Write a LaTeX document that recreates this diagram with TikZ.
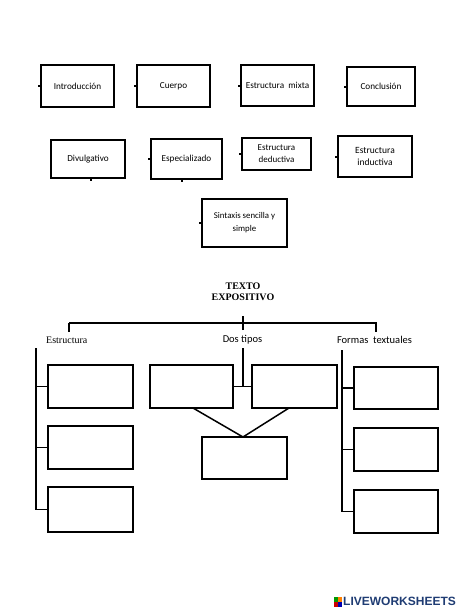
\documentclass[tikz,border=0pt]{standalone}
\usepackage{fontspec}
\setmainfont{Liberation Serif}
\newfontfamily\calfnt{Carlito}
\newfontfamily\lsansfnt{Liberation Sans}
\definecolor{lwblue}{HTML}{1F3C73}
\begin{document}
\begin{tikzpicture}[x=1pt,y=-1pt,
  tbox/.style={draw,line width=1.8pt,font=\calfnt\fontsize{9.2}{11}\selectfont,align=center,inner sep=0pt},
  bbox/.style={draw,line width=1.5pt,inner sep=0pt,minimum width=85pt,minimum height=43pt},
  conn/.style={line width=1.5pt},
  stub/.style={line width=2pt},
  lbl/.style={font=\calfnt\fontsize{10.5}{12}\selectfont,inner sep=0pt}]
\useasboundingbox (0,0) rectangle (474,611);
% top row
\node[tbox,minimum width=73pt,minimum height=42pt] (intro) at (77.5,86) {Introducción};
\node[tbox,minimum width=73pt,minimum height=42pt] (cuerpo) at (173.5,86) {Cuerpo};
\node[tbox,minimum width=73pt,minimum height=41pt] (mixta) at (277.5,85.5) {Estructura\ \ mixta};
\node[tbox,minimum width=68pt,minimum height=39pt] (concl) at (381,86.5) {Conclusión};
% second row
\node[tbox,minimum width=74pt,minimum height=38pt] (divul) at (88,159) {Divulgativo};
\node[tbox,minimum width=71pt,minimum height=40pt] (espec) at (186.5,159) {Especializado};
\node[tbox,minimum width=69pt,minimum height=32pt,font=\calfnt\fontsize{9}{12}\selectfont] (deduc) at (276.5,154) {Estructura\\deductiva};
\node[tbox,minimum width=74pt,minimum height=41pt,font=\calfnt\fontsize{9.5}{12.5}\selectfont] (induc) at (375,156.5) {Estructura\\inductiva};
\node[tbox,minimum width=85pt,minimum height=48pt,font=\calfnt\fontsize{8.8}{13}\selectfont] (sint) at (244.5,223) {Sintaxis sencilla y\\simple};
% tiny stubs
\draw[stub] (intro.west) -- ++(-2,0);
\draw[stub] (cuerpo.west) -- ++(-2,0);
\draw[stub] (mixta.west) -- ++(-2,0);
\draw[stub] (concl.west) -- ++(-2,0);
\draw[stub] (espec.west) -- ++(-2,0);
\draw[stub] (deduc.west) -- ++(-2,0);
\draw[stub] (induc.west) -- ++(-2,0);
\draw[stub] (sint.west) -- ++(-2,0);
\draw[stub] ([xshift=3pt]divul.south) -- ++(0,2);
\draw[stub] ([xshift=-5pt]espec.south) -- ++(0,2);
% lower diagram
\node[font=\bfseries\fontsize{10}{11.5}\selectfont,align=center,inner sep=0pt] (texto) at (243,292) {TEXTO\\EXPOSITIVO};
\coordinate (hl) at (69,323);
\coordinate (hr) at (376,323);
\coordinate (hc) at (243,323);
\draw[conn] (hl) -- ++(0,9);
\draw[conn] (hl) -- (hr) -- ++(0,9);
\draw[conn] ([yshift=-7pt]hc) -- ([yshift=7pt]hc);
\node[font=\fontsize{10}{12}\selectfont,inner sep=0pt,anchor=west] (lestr) at (46,340) {Estructura};
\node[lbl] (ldos) at (242.5,340) {Dos tipos};
\node[lbl] (lform) at (374.5,340) {Formas\ \ textuales};
% left column
\node[bbox] (l1) at (90.5,386.5) {};
\node[bbox] (l2) at (90.5,447.5) {};
\node[bbox,minimum height=45pt] (l3) at (90.5,509.5) {};
\coordinate (ltop) at (36,348);
\draw[conn] (ltop) |- (l3.west);
\draw[conn] (ltop|-l1.west) -- (l1.west);
\draw[conn] (ltop|-l2.west) -- (l2.west);
% middle
\node[bbox,minimum width=83pt] (ma) at (191.5,386.5) {};
\node[bbox] (mb) at (294.5,386.5) {};
\node[bbox,minimum height=42pt] (mc) at (244.5,458) {};
\coordinate (mtop) at (243,348);
\draw[conn] (mtop) -- (mtop|-ma.east);
\draw[conn] (ma.east) -- (mb.west);
\coordinate (apex) at (243,437);
\draw[conn] (193,408) -- (apex) -- (289,408);
% right column
\node[bbox,minimum width=84pt,minimum height=42pt] (r1) at (396,388) {};
\node[bbox,minimum width=84pt] (r2) at (396,449.5) {};
\node[bbox,minimum width=84pt] (r3) at (396,511.5) {};
\coordinate (rtop) at (342,350);
\draw[conn] (rtop) |- (r3.west);
\draw[conn] (rtop|-r1.west) -- (r1.west);
\draw[conn] (rtop|-r2.west) -- (r2.west);
% logo
\fill[green!60!black] (334,597) rectangle (337.5,601.5);
\fill[orange] (338,597) rectangle (341.5,601.5);
\fill[red!80!black] (334,602) rectangle (337.5,606.5);
\fill[blue!70!black] (338,602) rectangle (341.5,606.5);
\node[font=\lsansfnt\bfseries\fontsize{12}{14}\selectfont,text=lwblue,inner sep=0pt,anchor=west] (logo) at (343,601.5) {LIVEWORKSHEETS};
\end{tikzpicture}
\end{document}
